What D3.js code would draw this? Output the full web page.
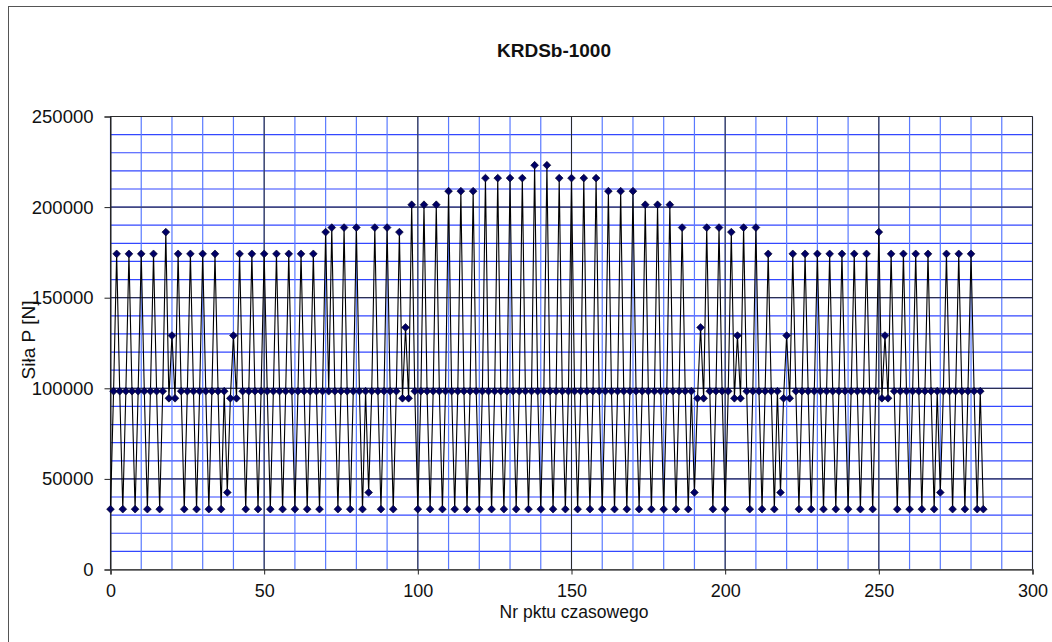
<!DOCTYPE html>
<html><head><meta charset="utf-8">
<script src="https://cdn.jsdelivr.net/npm/d3@7"></script>
<style>
body{margin:0;background:#fff}
text{font-family:"Liberation Sans",Arial,sans-serif;fill:#111}
</style>
</head><body>
<svg id="c" width="1052" height="642"></svg>
<script>
// ---- data ----
const chartTitle = "KRDSb-1000";
const xTitle = "Nr pktu czasowego";
const yTitle = "Siła P [N]";
const xTickValues = [0, 50, 100, 150, 200, 250, 300];
const yTickValues = [0, 50000, 100000, 150000, 200000, 250000];
// force value for each time point number 0..284
const forceValues = [
 33300, 98400,174200, 98400, 33300, 98400,174200, 98400, 33300, 98400, // 0-9
174200, 98400, 33300, 98400,174200, 98400, 33300, 98400,186200, 94500, // 10-19
129100, 94500,174200, 98400, 33300, 98400,174200, 98400, 33300, 98400, // 20-29
174200, 98400, 33300, 98400,174200, 98400, 33300, 98400, 42500, 94500, // 30-39
129100, 94500,174200, 98400, 33300, 98400,174200, 98400, 33300, 98400, // 40-49
174200, 98400, 33300, 98400,174200, 98400, 33300, 98400,174200, 98400, // 50-59
 33300, 98400,174200, 98400, 33300, 98400,174200, 98400, 33300, 98400, // 60-69
186200, 98400,188700, 98400, 33300, 98400,188700, 98400, 33300, 98400, // 70-79
188700, 98400, 33300, 98400, 42500, 98400,188700, 98400, 33300, 98400, // 80-89
188700, 98400, 33300, 98400,186200, 94500,133600, 94500,201300, 98400, // 90-99
 33300, 98400,201300, 98400, 33300, 98400,201300, 98400, 33300, 98400, // 100-109
208800, 98400, 33300, 98400,208800, 98400, 33300, 98400,208800, 98400, // 110-119
 33300, 98400,216000, 98400, 33300, 98400,216000, 98400, 33300, 98400, // 120-129
216000, 98400, 33300, 98400,216000, 98400, 33300, 98400,223100, 98400, // 130-139
 33300, 98400,223100, 98400, 33300, 98400,216000, 98400, 33300, 98400, // 140-149
216000, 98400, 33300, 98400,216000, 98400, 33300, 98400,216000, 98400, // 150-159
 33300, 98400,208800, 98400, 33300, 98400,208800, 98400, 33300, 98400, // 160-169
208800, 98400, 33300, 98400,201300, 98400, 33300, 98400,201300, 98400, // 170-179
 33300, 98400,201300, 98400, 33300, 98400,188700, 98400, 33300, 98400, // 180-189
 42500, 94500,133600, 94500,188700, 98400, 33300, 98400,188700, 98400, // 190-199
 33300, 98400,186200, 94500,129100, 94500,188700, 98400, 33300, 98400, // 200-209
188700, 98400, 33300, 98400,174200, 98400, 33300, 98400, 42500, 94500, // 210-219
129100, 94500,174200, 98400, 33300, 98400,174200, 98400, 33300, 98400, // 220-229
174200, 98400, 33300, 98400,174200, 98400, 33300, 98400,174200, 98400, // 230-239
 33300, 98400,174200, 98400, 33300, 98400,174200, 98400, 33300, 98400, // 240-249
186200, 94500,129100, 94500,174200, 98400, 33300, 98400,174200, 98400, // 250-259
 33300, 98400,174200, 98400, 33300, 98400,174200, 98400, 33300, 98400, // 260-269
 42500, 98400,174200, 98400, 33300, 98400,174200, 98400, 33300, 98400, // 270-279
174200, 98400, 33300, 98400, 33300                                      // 280-284
];

// ---- drawing ----
const svg = d3.select("#c");
svg.append("rect").attr("width",1052).attr("height",642).attr("fill","#fff");
// outer chart frame (only left/top visible)
svg.append("rect").attr("x",8.5).attr("y",6.5).attr("width",1100).attr("height",700)
   .attr("fill","none").attr("stroke","#555").attr("stroke-width",1);

const x = d3.scaleLinear().domain([0,300]).range([110.5,1032.5]);
const y = d3.scaleLinear().domain([0,250000]).range([569.5,116.5]);

const g = svg.append("g");
// minor grid (blue)
g.selectAll(".hmin").data(d3.range(0,250001,10000)).join("line")
  .attr("x1",x(0)).attr("x2",x(300)).attr("y1",d=>y(d)).attr("y2",d=>y(d))
  .attr("stroke","#3347ff").attr("stroke-width",1.2);
g.selectAll(".vmin").data(d3.range(0,301,10)).join("line")
  .attr("y1",y(0)).attr("y2",y(250000)).attr("x1",d=>x(d)).attr("x2",d=>x(d))
  .attr("stroke","#5a7aff").attr("stroke-width",1.2);
// major grid (black)
g.selectAll(".hmaj").data(yTickValues).join("line")
  .attr("x1",x(0)).attr("x2",x(300)).attr("y1",d=>y(d)).attr("y2",d=>y(d))
  .attr("stroke","#2a2a2a").attr("stroke-width",1);
g.selectAll(".vmaj").data(xTickValues).join("line")
  .attr("y1",y(0)).attr("y2",y(250000)).attr("x1",d=>x(d)).attr("x2",d=>x(d))
  .attr("stroke","#2a2a2a").attr("stroke-width",1);

// axes
const yAxis = d3.axisLeft(y).tickValues(yTickValues).tickSize(6).tickPadding(11).tickFormat(d3.format("d"));
const ya = svg.append("g").attr("transform",`translate(${x(0)},0)`).call(yAxis);
ya.select(".domain").attr("stroke","#222");
ya.selectAll(".tick line").attr("stroke","#222");
ya.selectAll("text").attr("font-size",18.5).style("font-family","'Liberation Sans',Arial,sans-serif").attr("fill","#111");

const xAxis = d3.axisBottom(x).tickValues(xTickValues).tickSize(5).tickPadding(10).tickFormat(d3.format("d"));
const xa = svg.append("g").attr("transform",`translate(0,${y(0)})`).call(xAxis);
xa.select(".domain").attr("stroke","#555").attr("stroke-width",1.5);
xa.selectAll(".tick line").attr("stroke","#222");
xa.selectAll("text").attr("font-size",18).style("font-family","'Liberation Sans',Arial,sans-serif").attr("fill","#111");

// series line
const pts = forceValues.map((v,i)=>({i,v}));
svg.append("path").datum(pts)
  .attr("d", d3.line().x(d=>x(d.i)).y(d=>y(d.v)))
  .attr("fill","none").attr("stroke","#000").attr("stroke-width",1.1);
// markers
const sym = d3.symbol().type(d3.symbolSquare).size(30);
svg.append("g").selectAll("path").data(pts).join("path")
  .attr("d", sym)
  .attr("transform", d=>`translate(${x(d.i)},${y(d.v)}) rotate(45)`)
  .attr("fill","#000066").attr("stroke","#000022").attr("stroke-width",0.6);

// titles
svg.append("text").attr("x",554).attr("y",57).attr("text-anchor","middle")
  .attr("font-size",19).attr("font-weight","bold").text(chartTitle);
svg.append("text").attr("x",574).attr("y",617.5).attr("text-anchor","middle")
  .attr("font-size",17.5).text(xTitle);
svg.append("text").attr("transform","translate(35,340) rotate(-90)").attr("text-anchor","middle")
  .attr("font-size",19).text(yTitle);
</script>
</body></html>
